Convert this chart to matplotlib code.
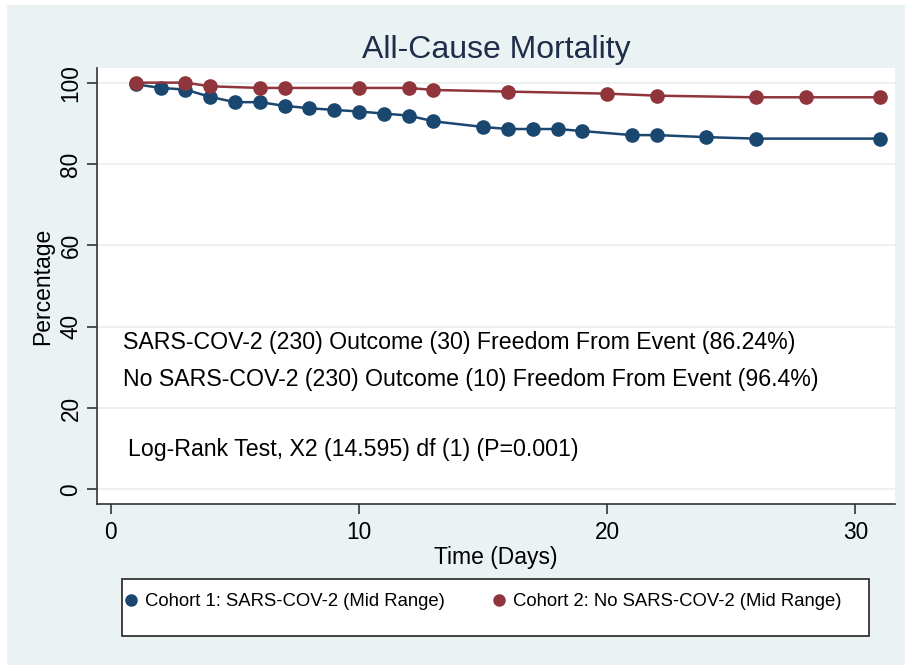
import matplotlib.pyplot as plt
from matplotlib.lines import Line2D
from matplotlib.patches import Rectangle

plt.rcParams['font.family'] = ['Liberation Sans', 'DejaVu Sans']

# Kaplan-Meier style survival values
days_c1 = [1, 2, 3, 4, 5, 6, 7, 8, 9, 10, 11, 12, 13, 15, 16, 17, 18, 19, 21, 22, 24, 26, 31]
pct_c1 = [99.6, 98.7, 98.3, 96.5, 95.2, 95.2, 94.3, 93.7, 93.3, 92.9, 92.4, 91.9, 90.5,
          89.1, 88.6, 88.6, 88.6, 88.1, 87.1, 87.1, 86.6, 86.24, 86.24]
days_c2 = [1, 3, 4, 6, 7, 10, 12, 13, 16, 20, 22, 26, 28, 31]
pct_c2 = [100.0, 100.0, 99.1, 98.7, 98.7, 98.7, 98.7, 98.2, 97.8, 97.3, 96.8, 96.4, 96.4, 96.4]

labels = ['Cohort 1: SARS-COV-2 (Mid Range)', 'Cohort 2: No SARS-COV-2 (Mid Range)']
notes = ['SARS-COV-2 (230) Outcome (30) Freedom From Event (86.24%)',
         'No SARS-COV-2 (230) Outcome (10) Freedom From Event (96.4%)',
         'Log-Rank Test, X2 (14.595) df (1) (P=0.001)']

blue = '#1a476f'
red = '#90353b'
bg = '#eaf2f3'

fig = plt.figure(figsize=(9.05, 6.65), dpi=100)
fig.patch.set_facecolor('white')
# light Stata-like background, leaving a thin white edge at top and left
fig.patches.append(Rectangle((7 / 905, 0), 1, 1 - 5 / 665, transform=fig.transFigure,
                             facecolor=bg, edgecolor='none', zorder=-5))

ax = fig.add_axes([97 / 905, 1 - 504 / 665, 798 / 905, 436 / 665])
ax.set_zorder(2)
ax.set_facecolor('white')

ax.plot(days_c1, pct_c1, color=blue, lw=1.8, marker='o', ms=9.5, zorder=3)
ax.plot(days_c2, pct_c2, color=red, lw=1.8, marker='o', ms=9.5, zorder=3)

ax.set_xlim(-0.56, 31.6)
ax.set_ylim(-3.6, 103.6)
ax.set_xticks([0, 10, 20, 30])
ax.set_yticks([0, 20, 40, 60, 80, 100])
ax.grid(axis='y', color='#e9eded', lw=1.2)
ax.set_axisbelow(True)

for side in ['top', 'right']:
    ax.spines[side].set_visible(False)
for side in ['left', 'bottom']:
    ax.spines[side].set_color('#333333')
    ax.spines[side].set_linewidth(1.2)

ax.tick_params(axis='both', labelsize=16.3, length=7, width=1.2, color='#333333')
ax.tick_params(axis='x', pad=5)
for lab in ax.get_yticklabels():
    lab.set_rotation(90)
    lab.set_va('center')

ax.set_xlabel('Time (Days)', fontsize=16.5, labelpad=2)
ax.set_ylabel('Percentage', fontsize=16.5, labelpad=4)
ax.set_title('All-Cause Mortality', fontsize=23, color='#1e2d4a', pad=7)

ax.text(0.48, 36.0, notes[0], fontsize=16.7, va='center', ha='left')
ax.text(0.48, 26.9, notes[1], fontsize=16.7, va='center', ha='left')
ax.text(0.69, 9.9, notes[2], fontsize=16.7, va='center', ha='left')

# legend box
fig.patches.append(Rectangle((122 / 905, 1 - 636 / 665), 747 / 905, 57 / 665,
                             transform=fig.transFigure, facecolor='white',
                             edgecolor='#333333', lw=1.3, zorder=1))
handles = [Line2D([], [], color=blue, marker='o', ls='none', ms=8),
           Line2D([], [], color=red, marker='o', ls='none', ms=8)]
fig.legend(handles, labels, loc='center left', bbox_to_anchor=(124 / 905, 1 - 602 / 665),
           ncol=2, frameon=False, fontsize=13.3, handlelength=0.6, handletextpad=0.45,
           columnspacing=2.6, borderaxespad=0, borderpad=0.1)

fig.savefig('out.png', dpi=100)
